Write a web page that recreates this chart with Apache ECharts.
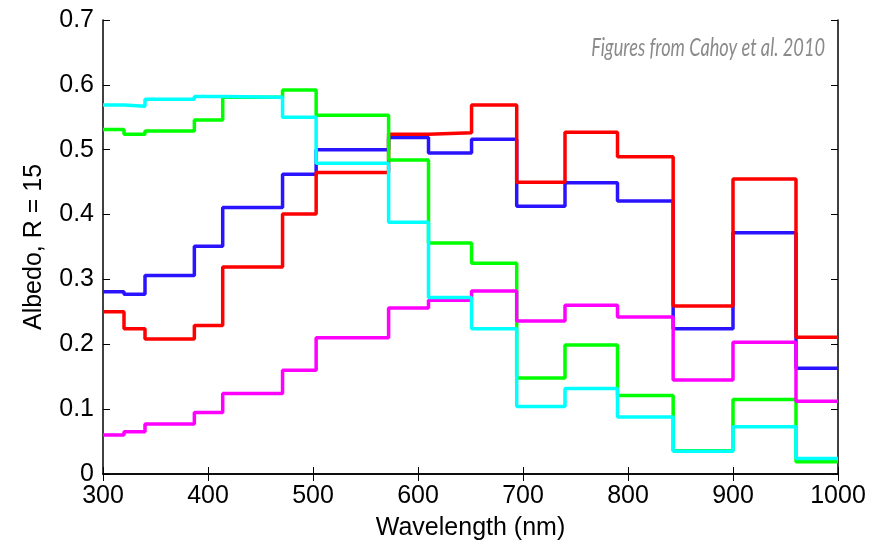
<!DOCTYPE html>
<html>
<head>
<meta charset="utf-8">
<script src="https://cdn.jsdelivr.net/npm/echarts@6/dist/echarts.min.js"></script>
<style>
  html, body { margin: 0; padding: 0; background: #fff; }
</style>
</head>
<body>
<div id="main" style="width: 880px; height: 546px"></div>
<script>
// bin edges (nm), one value per bin in each series
var edges = [300, 320, 340, 387, 414, 471, 503, 572, 610, 651, 694, 740, 790, 843, 900, 960, 1000]
var blueVals = [0.281, 0.277, 0.306, 0.351, 0.411, 0.462, 0.500, 0.519, 0.495, 0.516, 0.413, 0.449, 0.421, 0.224, 0.372, 0.163]
var redVals = [0.250, 0.224, 0.208, 0.229, 0.319, 0.401, 0.465, 0.524, 0.526, 0.569, 0.450, 0.527, 0.489, 0.259, 0.455, 0.211]
var greenVals = [0.531, 0.524, 0.529, 0.546, 0.581, 0.592, 0.553, 0.484, 0.356, 0.325, 0.148, 0.199, 0.121, 0.036, 0.115, 0.019]
var magentaVals = [0.060, 0.065, 0.077, 0.095, 0.124, 0.160, 0.210, 0.256, 0.268, 0.282, 0.236, 0.260, 0.242, 0.145, 0.203, 0.112]
var cyanVals = [0.569, 0.567, 0.578, 0.582, 0.581, 0.550, 0.479, 0.388, 0.272, 0.224, 0.104, 0.132, 0.088, 0.035, 0.073, 0.024]

function toSteps(vals) {
  var pts = []
  for (var i = 0; i < vals.length; i++) {
    pts.push([edges[i], vals[i]])
  }
  pts.push([edges[edges.length - 1], vals[vals.length - 1]])
  return pts
}

function stepSeries(name, color, vals) {
  return {
    name: name,
    type: 'line',
    step: 'end',
    showSymbol: false,
    symbol: 'none',
    lineStyle: { color: color, width: 3.5 },
    data: toSteps(vals),
    animation: false
  }
}

var chartDom = document.getElementById('main')
var myChart = echarts.init(chartDom)
var font = 'Liberation Sans, Arial, sans-serif'
var option = {
  animation: false,
  grid: { left: 103, right: 42, top: 20, bottom: 69 },
  xAxis: [
    {
      type: 'value',
      min: 300,
      max: 1000,
      interval: 100,
      name: 'Wavelength (nm)',
      nameLocation: 'middle',
      nameGap: 42,
      nameTextStyle: { color: '#000', fontSize: 25, fontFamily: font },
      axisLine: { lineStyle: { color: '#000', width: 1.5 } },
      axisTick: { inside: true, length: 7, lineStyle: { color: '#000' } },
      axisLabel: { color: '#000', fontSize: 25, fontFamily: font, margin: 10, formatter: function (v) { return String(v) } },
      splitLine: { show: false }
    },
    {
      type: 'value',
      position: 'top',
      min: 300,
      max: 1000,
      interval: 100,
      axisLine: { lineStyle: { color: '#000', width: 1.5 } },
      axisTick: { inside: true, length: 7, lineStyle: { color: '#000' } },
      axisLabel: { show: false },
      splitLine: { show: false }
    }
  ],
  yAxis: [
    {
      type: 'value',
      min: 0,
      max: 0.7,
      interval: 0.1,
      name: 'Albedo, R = 15',
      nameLocation: 'middle',
      nameGap: 56,
      nameTextStyle: { color: '#000', fontSize: 25, fontFamily: font },
      axisLine: { show: true, lineStyle: { color: '#000', width: 1.5 } },
      axisTick: { show: true, inside: true, length: 7, lineStyle: { color: '#000' } },
      axisLabel: { color: '#000', fontSize: 25, fontFamily: font, margin: 9 },
      splitLine: { show: false }
    },
    {
      type: 'value',
      position: 'right',
      min: 0,
      max: 0.7,
      interval: 0.1,
      axisLine: { show: true, lineStyle: { color: '#000', width: 1.5 } },
      axisTick: { show: true, inside: true, length: 7, lineStyle: { color: '#000' } },
      axisLabel: { show: false },
      splitLine: { show: false }
    }
  ],
  graphic: [
    {
      type: 'text',
      x: 825,
      y: 48,
      scaleX: 0.7,
      style: {
        text: 'Figures from Cahoy et al. 2010',
        font: 'italic 26px Lato, "Open Sans", sans-serif',
        fill: '#8a8a8a',
        align: 'right',
        verticalAlign: 'middle'
      }
    }
  ],
  series: [
    stepSeries('blue', '#2a14ff', blueVals),
    stepSeries('red', '#ff0000', redVals),
    stepSeries('green', '#00ff00', greenVals),
    stepSeries('magenta', '#ff00ff', magentaVals),
    stepSeries('cyan', '#00ffff', cyanVals)
  ]
}
option && myChart.setOption(option)
</script>
</body>
</html>
